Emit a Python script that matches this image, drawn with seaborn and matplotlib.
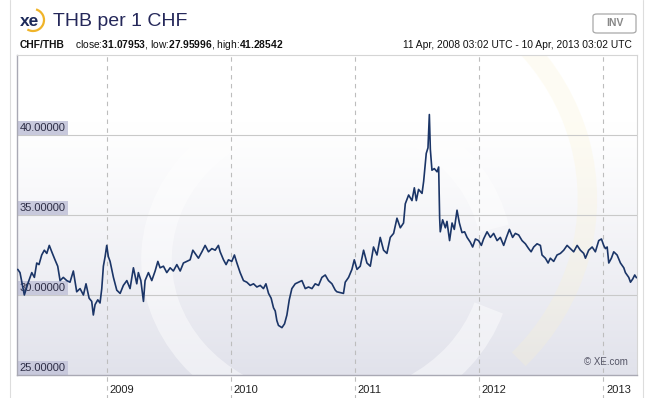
import numpy as np
import pandas as pd
import matplotlib
matplotlib.use("Agg")
import matplotlib.pyplot as plt
import matplotlib.dates as mdates
from matplotlib.patches import FancyBboxPatch, Arc
from matplotlib.colors import LinearSegmentedColormap
import seaborn as sns

# ---- data (decimal year, THB per 1 CHF) ----
years = [
    2008.283, 2008.301, 2008.336, 2008.368, 2008.396, 2008.417, 2008.436, 2008.454, 2008.476, 2008.497,
    2008.517, 2008.537, 2008.557, 2008.583, 2008.605, 2008.624, 2008.650, 2008.678, 2008.704, 2008.731,
    2008.758, 2008.785, 2008.812, 2008.833, 2008.858, 2008.879, 2008.892, 2008.906, 2008.928, 2008.946,
    2008.960, 2008.973, 2008.987, 2009.000, 2009.013, 2009.027, 2009.054, 2009.081, 2009.108, 2009.134,
    2009.162, 2009.188, 2009.215, 2009.242, 2009.255, 2009.275, 2009.296, 2009.309, 2009.336, 2009.363,
    2009.390, 2009.412, 2009.430, 2009.457, 2009.484, 2009.511, 2009.537, 2009.565, 2009.592, 2009.618,
    2009.646, 2009.672, 2009.694, 2009.712, 2009.739, 2009.767, 2009.793, 2009.820, 2009.847, 2009.874,
    2009.900, 2009.914, 2009.941, 2009.962, 2009.981, 2010.008, 2010.029, 2010.049, 2010.075, 2010.102,
    2010.129, 2010.156, 2010.183, 2010.210, 2010.237, 2010.263, 2010.283, 2010.304, 2010.325, 2010.344,
    2010.358, 2010.371, 2010.384, 2010.412, 2010.433, 2010.452, 2010.471, 2010.492, 2010.519, 2010.546,
    2010.573, 2010.600, 2010.626, 2010.654, 2010.680, 2010.707, 2010.734, 2010.761, 2010.787, 2010.815,
    2010.842, 2010.855, 2010.882, 2010.908, 2010.922, 2010.949, 2010.976, 2010.995, 2011.017, 2011.043,
    2011.070, 2011.097, 2011.124, 2011.150, 2011.178, 2011.204, 2011.231, 2011.258, 2011.285, 2011.312,
    2011.339, 2011.366, 2011.392, 2011.406, 2011.433, 2011.460, 2011.479, 2011.495, 2011.513, 2011.541,
    2011.554, 2011.575, 2011.589, 2011.600, 2011.608, 2011.621, 2011.640, 2011.662, 2011.675, 2011.683,
    2011.688, 2011.707, 2011.729, 2011.742, 2011.763, 2011.783, 2011.801, 2011.823, 2011.842, 2011.863,
    2011.884, 2011.904, 2011.930, 2011.949, 2011.971, 2011.997, 2012.019, 2012.037, 2012.065, 2012.092,
    2012.118, 2012.146, 2012.172, 2012.199, 2012.221, 2012.245, 2012.271, 2012.293, 2012.320, 2012.347,
    2012.374, 2012.400, 2012.420, 2012.441, 2012.468, 2012.495, 2012.508, 2012.535, 2012.557, 2012.575,
    2012.602, 2012.629, 2012.656, 2012.683, 2012.710, 2012.737, 2012.763, 2012.791, 2012.817, 2012.844,
    2012.858, 2012.884, 2012.912, 2012.938, 2012.965, 2012.987, 2013.005, 2013.019, 2013.033, 2013.046,
    2013.067, 2013.086, 2013.113, 2013.140, 2013.167, 2013.180, 2013.207, 2013.221, 2013.239, 2013.255,
    2013.269,
]
rates = [
    31.6, 31.4, 30.0, 30.8, 31.4, 31.1, 32.0, 31.9, 32.5, 32.8,
    32.6, 33.1, 32.7, 32.2, 31.8, 30.9, 31.1, 30.9, 30.8, 31.5,
    30.2, 30.4, 30.0, 30.7, 29.8, 29.6, 28.75, 29.4, 29.7, 29.5,
    30.4, 31.8, 32.4, 33.1, 32.4, 32.1, 31.1, 30.3, 30.1, 30.6,
    30.9, 30.4, 31.7, 30.7, 31.4, 30.9, 29.6, 30.9, 31.4, 30.9,
    31.5, 32.1, 31.7, 31.8, 31.4, 31.7, 31.5, 31.9, 31.5, 32.0,
    32.1, 32.2, 32.8, 32.6, 32.3, 32.7, 33.1, 32.7, 32.9, 32.8,
    33.1, 32.7, 32.2, 31.9, 32.2, 32.1, 32.5, 32.0, 31.4, 30.9,
    30.8, 30.6, 30.7, 30.5, 30.6, 30.4, 30.7, 30.1, 29.8, 29.2,
    29.0, 28.4, 28.1, 27.96, 28.2, 28.75, 29.7, 30.4, 30.7, 30.8,
    30.9, 30.4, 30.5, 30.4, 30.7, 30.6, 31.1, 31.25, 30.9, 30.7,
    30.3, 30.2, 30.15, 30.1, 30.8, 31.1, 31.6, 32.2, 31.6, 31.8,
    32.8, 32.0, 31.8, 33.0, 32.5, 33.6, 32.8, 32.6, 33.6, 33.85,
    34.8, 34.2, 34.5, 35.7, 36.25, 35.9, 36.7, 35.9, 36.6, 36.35,
    37.1, 38.85, 39.2, 41.28, 39.1, 37.8, 37.9, 37.7, 38.0, 34.8,
    33.95, 34.7, 34.2, 34.6, 33.4, 34.5, 34.1, 35.3, 34.5, 33.9,
    33.95, 33.6, 33.3, 33.0, 33.5, 33.4, 33.1, 33.5, 33.95, 33.6,
    33.85, 33.4, 33.6, 33.1, 33.6, 34.1, 33.6, 33.85, 33.75, 33.4,
    33.2, 32.9, 32.7, 33.0, 33.2, 33.1, 32.5, 32.3, 32.0, 32.3,
    32.1, 32.5, 32.6, 32.8, 33.1, 32.9, 32.7, 33.1, 32.8, 32.6,
    32.3, 32.8, 33.0, 32.7, 33.4, 33.5, 33.1, 32.9, 33.0, 32.0,
    32.3, 32.7, 32.5, 32.0, 31.7, 31.4, 31.1, 30.8, 31.0, 31.25,
    31.08,
]
y_ticks = [25, 30, 35, 40]
y_tick_labels = ["25.00000", "30.00000", "35.00000", "40.00000"]
x_tick_years = [2009, 2010, 2011, 2012, 2013]
x_tick_labels = ["2009", "2010", "2011", "2012", "2013"]

title = "THB per 1 CHF"
pair = "CHF/THB"
stats = [("close:", "31.07953"), ("low:", "27.95996"), ("high:", "41.28542")]
range_text = "11 Apr, 2008 03:02 UTC - 10 Apr, 2013 03:02 UTC"


def to_date(y):
    return pd.Timestamp("2008-01-01") + pd.to_timedelta((y - 2008) * 365.25, unit="D")


df = pd.DataFrame({"date": [to_date(y) for y in years], "rate": rates})

sns.set_style("white")
plt.rcParams["font.family"] = ["Liberation Sans", "DejaVu Sans"]
plt.rcParams["mathtext.fontset"] = "custom"
plt.rcParams["mathtext.rm"] = "Liberation Sans"
plt.rcParams["mathtext.bf"] = "Liberation Sans:bold"

W, H = 647, 398
fig = plt.figure(figsize=(W / 100, H / 100), dpi=100)
fig.patch.set_facecolor("white")

ax = fig.add_axes([17 / W, 23 / H, 620 / W, 320 / H])
ax.set_facecolor("white")

# background gradient (white at top, lavender-grey at bottom)
grad = np.clip((np.linspace(0, 1, 256) - 0.2) / 0.8, 0, 1) ** 1.2
cmap = LinearSegmentedColormap.from_list("bg", ["#ffffff", "#e1e2eb"])
ax.imshow(grad.reshape(-1, 1), cmap=cmap, aspect="auto", extent=[0, 1, 0, 1],
          origin="upper", transform=ax.transAxes, zorder=0, vmin=0, vmax=1)

# faint watermark
wm = Arc((0.50, 0.36), 0.55, 0.95, theta1=20, theta2=330, transform=ax.transAxes,
         color="#ffffff", alpha=0.45, lw=22, zorder=0.5)
ax.add_patch(wm)
wm2 = Arc((0.52, 0.55), 0.80, 1.45, theta1=-60, theta2=80, transform=ax.transAxes,
          color="#fbf3d0", alpha=0.25, lw=14, zorder=0.5)
ax.add_patch(wm2)

start = pd.Timestamp("2008-04-11 03:02")
end = pd.Timestamp("2013-04-10 03:02")

for v in y_ticks[1:]:
    ax.axhline(v, color="#c9c9c9", lw=0.8, zorder=1)

tick_nums = [mdates.date2num(pd.Timestamp(f"{yr}-01-01")) for yr in x_tick_years]
for xn in tick_nums:
    ax.axvline(xn, ymin=-0.075, ymax=1, color="#bdbdbd",
               lw=0.8, ls=(0, (4, 4)), clip_on=False, zorder=1)

sns.lineplot(data=df, x="date", y="rate", ax=ax, color="#1b3567", lw=1.2, zorder=3)

ax.set_xlim(mdates.date2num(start), mdates.date2num(end))
ax.set_ylim(25, 45)
ax.set_xticks([])
ax.set_yticks([])
ax.set_xlabel("")
ax.set_ylabel("")
for s in ["left", "bottom"]:
    ax.spines[s].set_color("#a9a9b4")
    ax.spines[s].set_linewidth(1.0)
for s in ["top", "right"]:
    ax.spines[s].set_color("#d5d5d5")
    ax.spines[s].set_linewidth(0.8)

# y labels boxed
for v, lab in zip(y_ticks, y_tick_labels):
    ax.text(0.004, v + 0.12, lab, transform=ax.get_yaxis_transform(), ha="left", va="bottom",
            fontsize=8, color="#2d2d45", zorder=2,
            bbox=dict(boxstyle="square,pad=0.2", fc="#c8c9dc", ec="none"))

# x labels
for xn, lab in zip(tick_nums, x_tick_labels):
    ax.annotate(lab, xy=(xn, 0), xycoords=ax.get_xaxis_transform(),
                xytext=(2, -7), textcoords="offset points", ha="left", va="top",
                fontsize=8, color="#222222", annotation_clip=False)

ax.text(0.985, 0.025, "© XE.com", transform=ax.transAxes, ha="right", va="bottom",
        fontsize=7, color="#555566", zorder=4)

# header
fig.text(20 / W, 1 - 21 / H, "xe", fontsize=12.5, fontweight="bold", color="#1d2a5a",
         ha="left", va="center")
logo = Arc((33 / W, 1 - 20 / H), 22 / W, 22 / H, theta1=-110, theta2=80,
           transform=fig.transFigure, color="#f0b429", lw=1.6)
fig.add_artist(logo)
fig.text(53 / W, 1 - 21 / H, title, fontsize=14, color="#25285a", ha="left", va="center")

fs = 7.4
fig.text(20 / W, 1 - 45 / H, pair, fontsize=fs, fontweight="bold", color="#111111",
         ha="left", va="center")
stat_str = ", ".join(k + r"$\mathbf{" + v + "}$" for k, v in stats)
fig.text(75 / W, 1 - 45 / H, stat_str, fontsize=fs, color="#111111", ha="left", va="center")

fig.text(632 / W, 1 - 45 / H, range_text, fontsize=fs, color="#111111", ha="right", va="center")

btn = FancyBboxPatch((593 / W, 1 - 33 / H), 43 / W, 19 / H,
                     boxstyle="round,pad=0,rounding_size=0.006", transform=fig.transFigure,
                     fc="white", ec="#a8a8a8", lw=0.9)
fig.add_artist(btn)
fig.text(614.5 / W, 1 - 23.5 / H, "INV", fontsize=7.5, fontweight="bold", color="#888888",
         ha="center", va="center")

# page borders
fig.add_artist(plt.Line2D([9.5 / W, 9.5 / W], [0, 1], transform=fig.transFigure, color="#dddddd", lw=0.8))
fig.add_artist(plt.Line2D([642.5 / W, 642.5 / W], [0, 1], transform=fig.transFigure, color="#dddddd", lw=0.8))

fig.savefig("out.png", dpi=100)
